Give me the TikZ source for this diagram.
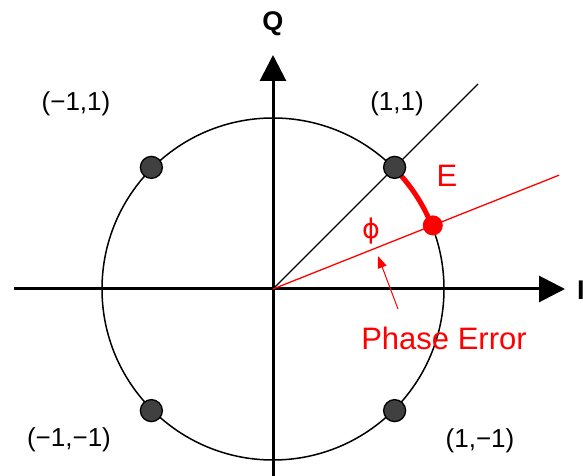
\documentclass[tikz,border=0pt]{standalone}
\usepackage{fontspec}
\setmainfont{Liberation Sans}
\newfontfamily\greekfont{DejaVu Sans}
\usetikzlibrary{arrows.meta,positioning,calc}
\definecolor{dotgray}{RGB}{64,64,64}
\colorlet{errred}{red}
\tikzset{
  axisline/.style={line width=3pt, -{Triangle[length=26pt,width=26pt]}},
  symdot/.style={circle, draw=black, line width=1.3pt, fill=dotgray, minimum size=22pt, inner sep=0pt},
  errdot/.style={circle, fill=errred, minimum size=20pt, inner sep=0pt},
  ptlabel/.style={font=\fontsize{26}{30}\selectfont},
  errlabel/.style={text=errred, font=\fontsize{31}{36}\selectfont}
}

\begin{document}
\begin{tikzpicture}[x=1pt, y=1pt]
  \useasboundingbox (-273,-187) rectangle (310,289);
  \coordinate (o) at (0,0);
  \coordinate (xl) at (-259,0);
  \coordinate (xr) at (292,0);
  \coordinate (yb) at (0,-187);
  \coordinate (yt) at (0,234);
  \coordinate (diag) at (45:290);
  \coordinate (phend) at (21.7:308);
  % circle and reference line
  \draw[line width=1.5pt] (o) circle[radius=171];
  \draw[line width=1.2pt] (o) -- (diag);
  % axes
  \draw[axisline] (xl) -- (xr);
  \draw[axisline] (yb) -- (yt);
  \node[font=\bfseries\fontsize{27}{30}\selectfont] (qlab) at (0,265) {Q};
  \node[font=\bfseries\fontsize{27}{30}\selectfont, anchor=west, inner sep=0pt] (ilab) at (304,-1) {I};
  % phase error
  \draw[errred, line width=1.3pt] (o) -- (phend);
  \draw[errred, line width=5pt, line cap=round] (41:171) arc[start angle=41, end angle=23, radius=171];
  % symbols
  \foreach \a/\n in {45/d11, 135/d01, 225/d00, 315/d10}
    \node[symdot] (\n) at (\a:172) {};
  \node[errdot] (err) at (21.7:172) {};
  \node[ptlabel] (l11) at (124,185) {(1,1)};
  \node[ptlabel] (l01) at (-197,185) {(−1,1)};
  \node[ptlabel] (l00) at (-204,-151) {(−1,−1)};
  \node[ptlabel] (l10) at (207,-152) {(1,−1)};
  \node[errlabel] (elab) at (174,113) {E};
  \node[text=errred, font=\greekfont\fontsize{27}{30}\selectfont] (philab) at (98,58) {ϕ};
  \node[errlabel] (pelab) at (171,-49) {Phase Error};
  \coordinate (ptail) at (125,-20);
  \coordinate (ptip) at (105,33);
  \draw[errred, line width=1pt, -{Triangle[length=12pt,width=9pt]}] (ptail) -- (ptip);
\end{tikzpicture}
\end{document}
